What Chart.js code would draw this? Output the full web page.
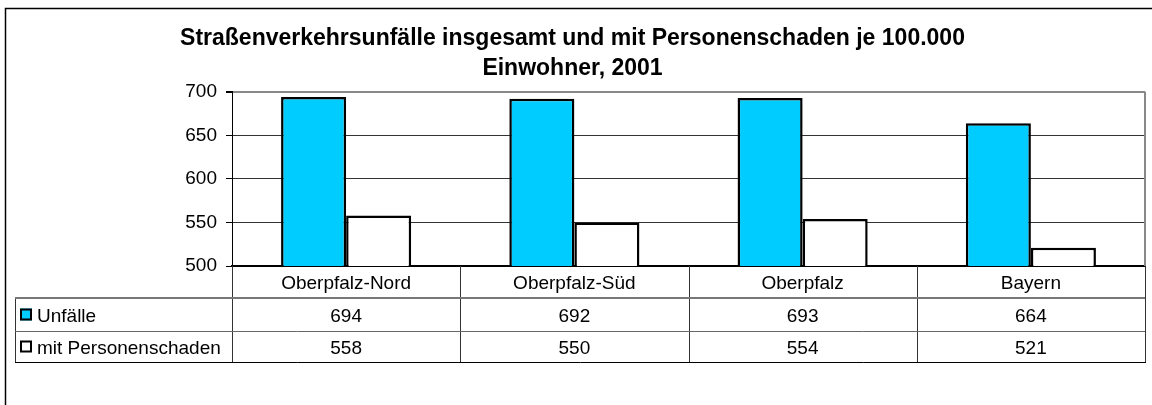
<!DOCTYPE html>
<html lang="de">
<head>
<meta charset="UTF-8" />
<title>Straßenverkehrsunfälle 2001</title>
<script src="https://cdn.jsdelivr.net/npm/chart.js"></script>
<style>
  html, body { margin: 0; padding: 0; background: #fff; }
  #wrap { width: 1152px; height: 405px; }
</style>
</head>
<body>
<div id="wrap"><canvas id="grafico"></canvas></div>
<script>
  // dados
  const kategorien = ['Oberpfalz-Nord', 'Oberpfalz-Süd', 'Oberpfalz', 'Bayern'];
  const unfaelle = [694, 692, 693, 664];
  const personenschaden = [558, 550, 554, 521];
  const serienNamen = ['Unfälle', 'mit Personenschaden'];
  const serienFarben = ['#00CCFF', '#FFFFFF'];
  const yMin = 500, yMax = 700, yStep = 50;
  const titel = ['Straßenverkehrsunfälle insgesamt und mit Personenschaden je 100.000', 'Einwohner, 2001'];

  const schrift = "'Liberation Sans', Arial, sans-serif";

  // moldura externa + fundo
  const rahmen = {
    id: 'rahmen',
    beforeDraw(chart) {
      const ctx = chart.ctx;
      ctx.save();
      ctx.fillStyle = '#fff';
      ctx.fillRect(0, 0, chart.width, chart.height);
      ctx.strokeStyle = '#000';
      ctx.lineWidth = 1.5;
      ctx.strokeRect(5.5, 8.5, chart.width + 20, chart.height + 20);
      ctx.restore();
    }
  };

  // tabela de dados embaixo do grafico
  const tabelle = {
    id: 'tabelle',
    afterDraw(chart) {
      const ctx = chart.ctx;
      const area = chart.chartArea;
      const x = chart.scales.x;
      const halb = (x.getPixelForValue(1) - x.getPixelForValue(0)) / 2;
      const links = 15;
      const zeile1 = area.bottom + 32;
      const zeile2 = zeile1 + 33;
      const unten = zeile2 + 31;
      const reihen = [unfaelle, personenschaden];

      ctx.save();
      // borda direita da area do grafico
      ctx.strokeStyle = '#888';
      ctx.lineWidth = 2;
      ctx.beginPath();
      ctx.moveTo(area.right, area.top);
      ctx.lineTo(area.right, area.bottom);
      ctx.stroke();

      // linhas verticais
      ctx.strokeStyle = '#333';
      ctx.lineWidth = 1;
      for (let i = 0; i <= kategorien.length; i++) {
        const px = Math.round(x.getPixelForValue(i) - halb) + 0.5;
        ctx.beginPath();
        ctx.moveTo(px, area.bottom);
        ctx.lineTo(px, unten);
        ctx.stroke();
      }
      ctx.beginPath();
      ctx.moveTo(links + 0.5, zeile1);
      ctx.lineTo(links + 0.5, unten);
      ctx.stroke();

      // linhas horizontais
      ctx.strokeStyle = '#777';
      ctx.lineWidth = 2;
      ctx.beginPath();
      ctx.moveTo(links, zeile1);
      ctx.lineTo(area.right, zeile1);
      ctx.stroke();
      ctx.strokeStyle = '#666';
      ctx.lineWidth = 1;
      ctx.beginPath();
      ctx.moveTo(links, zeile2 + 0.5);
      ctx.lineTo(area.right, zeile2 + 0.5);
      ctx.stroke();
      ctx.strokeStyle = '#000';
      ctx.beginPath();
      ctx.moveTo(links, unten + 0.5);
      ctx.lineTo(area.right + 1, unten + 0.5);
      ctx.stroke();

      // legendas e valores
      ctx.font = '19px ' + schrift;
      ctx.fillStyle = '#000';
      ctx.textBaseline = 'alphabetic';
      const mitten = [(zeile1 + zeile2) / 2, (zeile2 + unten) / 2];
      for (let r = 0; r < reihen.length; r++) {
        const my = mitten[r];
        ctx.fillStyle = serienFarben[r];
        ctx.fillRect(20, my - 6, 12, 12);
        ctx.strokeStyle = '#000';
        ctx.lineWidth = 2;
        ctx.strokeRect(21, my - 5, 10, 10);
        ctx.fillStyle = '#000';
        ctx.textAlign = 'left';
        ctx.fillText(serienNamen[r], 37, my + 7);
        ctx.textAlign = 'center';
        for (let i = 0; i < kategorien.length; i++) {
          ctx.fillText(String(reihen[r][i]), x.getPixelForValue(i), my + 7);
        }
      }
      ctx.restore();
    }
  };

  const dados = {
    labels: kategorien,
    datasets: [{
      label: serienNamen[0],
      data: unfaelle,
      backgroundColor: serienFarben[0],
      borderColor: '#000',
      borderWidth: 2.5
    }, {
      label: serienNamen[1],
      data: personenschaden,
      backgroundColor: serienFarben[1],
      borderColor: '#000',
      borderWidth: 2.5
    }]
  };

  const config = {
    type: 'bar',
    data: dados,
    options: {
      responsive: false,
      animation: false,
      devicePixelRatio: 1,
      layout: { padding: { left: 0, right: 7, top: 0, bottom: 0 } },
      datasets: { bar: { categoryPercentage: 0.57, barPercentage: 1 } },
      plugins: {
        legend: { display: false },
        tooltip: { enabled: false },
        title: {
          display: true,
          text: titel,
          color: '#000',
          font: { family: schrift, size: 23, weight: 'bold', lineHeight: 1.3 },
          padding: { top: 24, bottom: 8 }
        }
      },
      scales: {
        x: {
          grid: { display: true, drawOnChartArea: false, drawTicks: false },
          border: { display: true, color: '#000', width: 2 },
          ticks: { color: '#000', padding: 6, font: { family: schrift, size: 19 } },
          afterFit(scale) { scale.height = 139; }
        },
        y: {
          min: yMin,
          max: yMax,
          ticks: { stepSize: yStep, color: '#000', padding: 9, font: { family: schrift, size: 19 } },
          grid: {
            color: (c) => c.tick && c.tick.value === yMax ? '#888' : '#333',
            lineWidth: (c) => c.tick && c.tick.value === yMax ? 2 : 1,
            tickColor: '#000',
            tickLength: 6
          },
          border: { display: true, color: '#000', width: 1 },
          afterFit(scale) { scale.width = 232; }
        }
      }
    },
    plugins: [rahmen, tabelle]
  };

  const canvas = document.getElementById('grafico');
  canvas.width = 1152;
  canvas.height = 405;
  new Chart(canvas, config);
</script>
</body>
</html>
